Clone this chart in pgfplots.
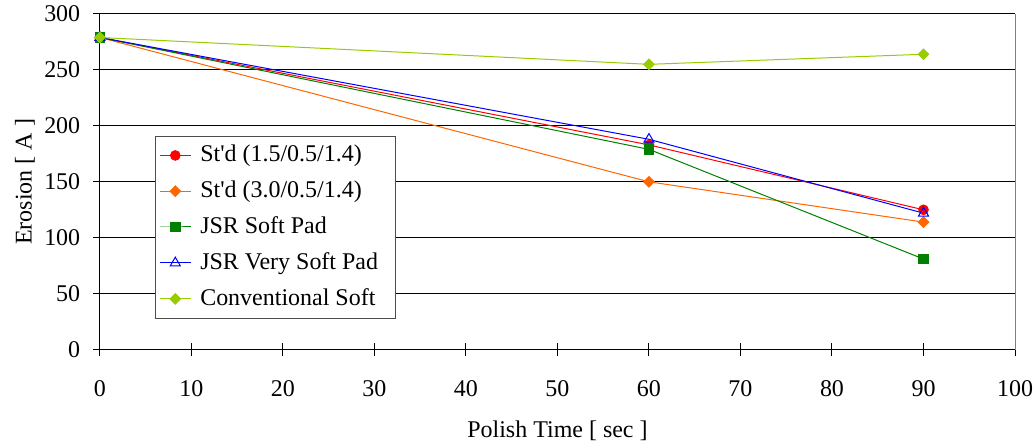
\documentclass[border=0pt]{standalone}
\usepackage{pgfplots}
\pgfplotsset{compat=1.18}
\usepackage{fontspec}
\setmainfont{Liberation Serif}
\definecolor{cred}{RGB}{255,0,0}
\definecolor{corange}{RGB}{255,102,0}
\definecolor{cgreen}{RGB}{0,128,0}
\definecolor{cblue}{RGB}{0,0,255}
\definecolor{clime}{RGB}{153,204,0}
\begin{document}
\fontsize{24}{28}\selectfont
\begin{tikzpicture}
\begin{axis}[
  name=ax,
  scale only axis,
  width=916pt, height=336pt,
  xmin=0, xmax=100, ymin=0, ymax=300,
  xtick={0,10,...,100}, ytick={0,50,...,300},
  axis x line*=bottom, axis y line*=left,
  axis line style={black, line width=1pt},
  tick align=center, major tick length=13pt,
  tick style={black, line width=1pt},
  ymajorgrids, grid style={black, line width=1pt},
  /pgf/number format/assume math mode=true,
  ticklabel style={font=\fontsize{24}{28}\selectfont},
  yticklabel style={anchor=east, inner sep=0pt, xshift=-13pt},
  xticklabel style={anchor=center, inner sep=0pt, yshift=-33pt},
  xlabel={Polish Time [ sec ]},
  ylabel={Erosion [ A ]},
  xlabel style={at={(axis description cs:0.5,-0.241)}, anchor=center, inner sep=0pt},
  ylabel style={at={(axis description cs:-0.0819,0.5)}, anchor=center, inner sep=0pt},
  legend style={at={(axis description cs:0.060,0.637)}, anchor=north west,
    draw=black!70, line width=1pt, font=\fontsize{24}{28}\selectfont,
    inner xsep=4pt, inner ysep=7pt, row sep=11.5pt,
    nodes={inner xsep=4pt}},
  legend cell align=left,
  legend image code/.code={
    \draw[mark repeat=2, mark phase=2, #1] plot coordinates {(1pt,0pt) (16.5pt,0pt) (32pt,0pt)};
    \path (37pt,0pt);
  },
  every axis plot/.append style={line width=1pt},
  clip=false,
]
\addplot[cred, mark=*, mark size=4.8pt, mark options={fill=cred}] coordinates {(0,279) (60,183) (90,125)};
\addlegendentry{St\textquotesingle d (1.5/0.5/1.4)}
\addplot[corange, mark=square*, mark size=3.7pt, mark options={fill=corange, rotate=45}] coordinates {(0,279) (60,150) (90,114)};
\addlegendentry{St\textquotesingle d (3.0/0.5/1.4)}
\addplot[cgreen, mark=square*, mark size=4.8pt, mark options={fill=cgreen}] coordinates {(0,279) (60,179) (90,81)};
\addlegendentry{JSR Soft Pad}
\addplot[cblue, mark=triangle, mark size=5.8pt] coordinates {(0,279) (60,188) (90,122)};
\addlegendentry{JSR Very Soft Pad\rule{9pt}{0pt}}
\addplot[clime, mark=square*, mark size=3.7pt, mark options={fill=clime, rotate=45}] coordinates {(0,279) (60,255) (90,264)};
\addlegendentry{Conventional Soft}
\draw[gray, line width=1pt] (rel axis cs:1,0) -- (rel axis cs:1,1);
\end{axis}
\path (ax.south west) ++(-100pt,-93pt) coordinate (bbA);
\path (ax.north east) ++(16pt,14pt) coordinate (bbB);
\path[use as bounding box] (bbA) rectangle (bbB);
\end{tikzpicture}
\end{document}
